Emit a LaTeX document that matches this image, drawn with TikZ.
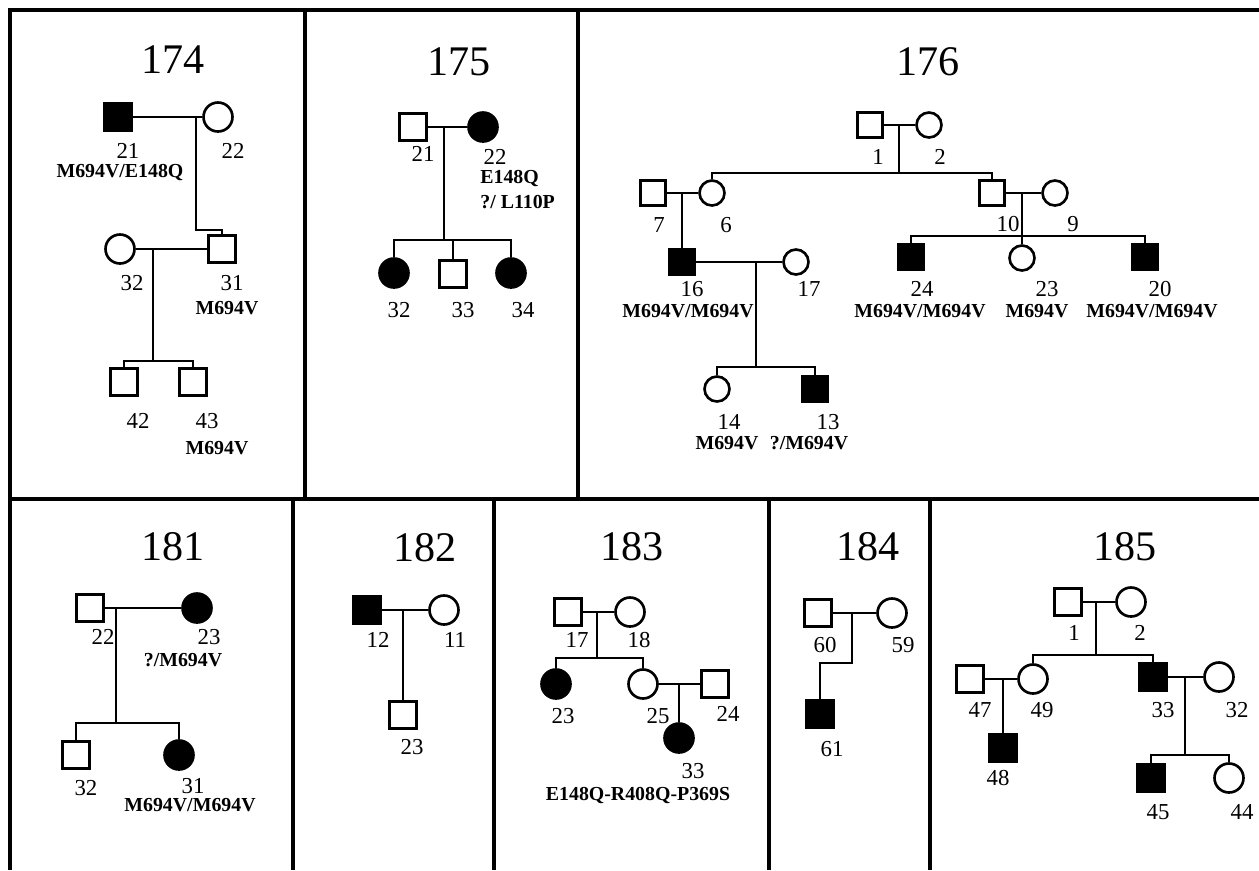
\documentclass[tikz,border=0pt]{standalone}
\usepackage{fontspec}
\setmainfont{Liberation Serif}
\usepackage{tikz}
\usetikzlibrary{positioning, calc}

\begin{document}
\begin{tikzpicture}[
    x=0.02cm, y=-0.02cm,
    male/.style={rectangle, draw, line width=1.5pt, minimum size=0.54cm, inner sep=0pt},
    female/.style={circle, draw, line width=1.5pt, minimum size=0.58cm, inner sep=0pt},
    small/.style={minimum size=0.5cm},
    aff/.style={fill=black},
    tie/.style={line width=1.6pt},
    panel/.style={line width=1.8pt},
    fam/.style={font=\fontsize{24}{26}\selectfont, inner sep=0pt},
    idn/.style={font=\fontsize{13}{14}\selectfont, inner sep=0pt},
    gen/.style={font=\bfseries\fontsize{11.3}{12}\selectfont, inner sep=0pt},
]
    \useasboundingbox (0,0) rectangle (1259,870);

    % ── Panel frame ──
    \draw[panel] (10,870) -- (10,10) -- (1259,10);
    \draw[panel] (10,499) -- (1259,499);
    \draw[panel] (305,10) -- (305,499);
    \draw[panel] (578,10) -- (578,499);
    \draw[panel] (293,499) -- (293,870);
    \draw[panel] (494,499) -- (494,870);
    \draw[panel] (769,499) -- (769,870);
    \draw[panel] (930,499) -- (930,870);

    % ── 174 ──
    \node[fam] (t174) at (173,60) {174};
    \node[male, aff] (a21) at (118,117) {};
    \node[female] (a22) at (218,117) {};
    \node[female] (a32) at (120,249) {};
    \node[male] (a31) at (222,249) {};
    \node[male] (a42) at (124,382) {};
    \node[male] (a43) at (193,382) {};
    \coordinate (a1) at (196,117);
    \coordinate (a1k) at (196,230);
    \coordinate (a2) at (153,249);
    \coordinate (a2s) at (153,361);

    \draw[tie] (a21) -- (a22);
    \draw[tie] (a1) -- (a1k) -| (a31.north);
    \draw[tie] (a32) -- (a31);
    \draw[tie] (a2) -- (a2s);
    \draw[tie] (a42.north) |- (a2s) -| (a43.north);

    \node[idn] (a21l) at (128,151) {21};
    \node[idn] (a22l) at (233,151) {22};
    \node[gen] (a21g) at (120,173) {M694V/E148Q};
    \node[idn] (a32l) at (132,283) {32};
    \node[idn] (a31l) at (232,283) {31};
    \node[gen] (a31g) at (227,308) {M694V};
    \node[idn] (a42l) at (138,421) {42};
    \node[idn] (a43l) at (207,421) {43};
    \node[gen] (a43g) at (217,448) {M694V};

    % ── 175 ──
    \node[fam] (t175) at (459,62) {175};
    \node[male] (b21) at (413,127) {};
    \node[female, aff] (b22) at (483,127) {};
    \node[female, aff] (b32) at (394,273) {};
    \node[male] (b33) at (453,274) {};
    \node[female, aff] (b34) at (511,273) {};
    \coordinate (b1) at (444,127);
    \coordinate (b1s) at (444,240);

    \draw[tie] (b21) -- (b22);
    \draw[tie] (b1) -- (b1s);
    \draw[tie] (b32.north) |- (b1s) -| (b34.north);
    \draw[tie] (b33.north) -- (b33.north |- b1s);

    \node[idn] (b21l) at (423,154) {21};
    \node[idn] (b22l) at (495,157) {22};
    \node[gen, anchor=west] (b22g) at (480,178) {E148Q};
    \node[gen, anchor=west] (b22h) at (480,202) {?/ L110P};
    \node[idn] (b32l) at (399,310) {32};
    \node[idn] (b33l) at (463,310) {33};
    \node[idn] (b34l) at (523,310) {34};

    % ── 176 ──
    \node[fam] (t176) at (928,62) {176};
    \node[male, small] (c1) at (870,125) {};
    \node[female, small] (c2) at (929,125) {};
    \node[male, small] (c7) at (653,193) {};
    \node[female, small] (c6) at (712,193) {};
    \node[male, small] (c10) at (992,193) {};
    \node[female, small] (c9) at (1055,193) {};
    \node[male, small, aff] (c16) at (682,262) {};
    \node[female, small] (c17) at (796,262) {};
    \node[female, small] (c14) at (717,389) {};
    \node[male, small, aff] (c13) at (815,389) {};
    \node[male, small, aff] (c24) at (911,257) {};
    \node[female, small] (c23) at (1022,258) {};
    \node[male, small, aff] (c20) at (1145,257) {};
    \coordinate (c0) at (899,125);
    \coordinate (c0s) at (899,173);
    \coordinate (c3) at (682,193);
    \coordinate (c4) at (756,262);
    \coordinate (c4s) at (756,367);
    \coordinate (c5) at (1022,193);
    \coordinate (c5s) at (1022,236);

    \draw[tie] (c1) -- (c2);
    \draw[tie] (c0) -- (c0s);
    \draw[tie] (c6.north) |- (c0s) -| (c10.north);
    \draw[tie] (c7) -- (c6);
    \draw[tie] (c3) -- (c16.north);
    \draw[tie] (c10) -- (c9);
    \draw[tie] (c5) -- (c23.north);
    \draw[tie] (c24.north) |- (c5s) -| (c20.north);
    \draw[tie] (c16) -- (c17);
    \draw[tie] (c4) -- (c4s);
    \draw[tie] (c14.north) |- (c4s) -| (c13.north);

    \node[idn] (c1l) at (878,157) {1};
    \node[idn] (c2l) at (940,157) {2};
    \node[idn] (c7l) at (659,225) {7};
    \node[idn] (c6l) at (726,225) {6};
    \node[idn] (c10l) at (1008,224) {10};
    \node[idn] (c9l) at (1073,224) {9};
    \node[idn] (c16l) at (692,289) {16};
    \node[gen] (c16g) at (688,311) {M694V/M694V};
    \node[idn] (c17l) at (809,289) {17};
    \node[idn] (c24l) at (922,289) {24};
    \node[gen] (c24g) at (920,311) {M694V/M694V};
    \node[idn] (c23l) at (1047,289) {23};
    \node[gen] (c23g) at (1037,311) {M694V};
    \node[idn] (c20l) at (1160,289) {20};
    \node[gen] (c20g) at (1152,311) {M694V/M694V};
    \node[idn] (c14l) at (729,422) {14};
    \node[gen] (c14g) at (727,443) {M694V};
    \node[idn] (c13l) at (828,422) {13};
    \node[gen] (c13g) at (809,443) {?/M694V};

    % ── 181 ──
    \node[fam] (t181) at (173,547) {181};
    \node[male] (d22) at (90,608) {};
    \node[female, aff] (d23) at (197,608) {};
    \node[male] (d32) at (76,755) {};
    \node[female, aff] (d31) at (179,755) {};
    \coordinate (d1) at (116,608);
    \coordinate (d1s) at (116,723);

    \draw[tie] (d22) -- (d23);
    \draw[tie] (d1) -- (d1s);
    \draw[tie] (d32.north) |- (d1s) -| (d31.north);

    \node[idn] (d22l) at (103,637) {22};
    \node[idn] (d23l) at (209,637) {23};
    \node[gen] (d23g) at (183,660) {?/M694V};
    \node[idn] (d32l) at (86,788) {32};
    \node[idn] (d31l) at (193,786) {31};
    \node[gen] (d31g) at (190,805) {M694V/M694V};

    % ── 182 ──
    \node[fam] (t182) at (425,548) {182};
    \node[male, aff] (e12) at (367,610) {};
    \node[female] (e11) at (444,610) {};
    \node[male] (e23) at (403,715) {};
    \coordinate (e1) at (403,610);

    \draw[tie] (e12) -- (e11);
    \draw[tie] (e1) -- (e23.north);

    \node[idn] (e12l) at (378,640) {12};
    \node[idn] (e11l) at (455,640) {11};
    \node[idn] (e23l) at (412,747) {23};

    % ── 183 ──
    \node[fam] (t183) at (632,547) {183};
    \node[male] (f17) at (568,612) {};
    \node[female] (f18) at (630,612) {};
    \node[female, aff] (f23) at (556,684) {};
    \node[female] (f25) at (643,684) {};
    \node[male] (f24) at (715,684) {};
    \node[female, aff] (f33) at (679,738) {};
    \coordinate (f1) at (597,612);
    \coordinate (f1s) at (597,658);
    \coordinate (f2) at (679,684);

    \draw[tie] (f17) -- (f18);
    \draw[tie] (f1) -- (f1s);
    \draw[tie] (f23.north) |- (f1s) -| (f25.north);
    \draw[tie] (f25) -- (f24);
    \draw[tie] (f2) -- (f33.north);

    \node[idn] (f17l) at (577,640) {17};
    \node[idn] (f18l) at (639,640) {18};
    \node[idn] (f23l) at (563,716) {23};
    \node[idn] (f25l) at (658,716) {25};
    \node[idn] (f24l) at (728,714) {24};
    \node[idn] (f33l) at (693,771) {33};
    \node[gen] (f33g) at (638,795) {E148Q-R408Q-P369S};

    % ── 184 ──
    \node[fam] (t184) at (868,547) {184};
    \node[male] (g60) at (818,613) {};
    \node[female] (g59) at (892,613) {};
    \node[male, aff] (g61) at (820,714) {};
    \coordinate (g1) at (852,613);
    \coordinate (g1k) at (852,663);

    \draw[tie] (g60) -- (g59);
    \draw[tie] (g1) -- (g1k) -| (g61.north);

    \node[idn] (g60l) at (825,645) {60};
    \node[idn] (g59l) at (903,645) {59};
    \node[idn] (g61l) at (832,749) {61};

    % ── 185 ──
    \node[fam] (t185) at (1125,547) {185};
    \node[male] (h1) at (1068,602) {};
    \node[female] (h2) at (1131,602) {};
    \node[male] (h47) at (970,679) {};
    \node[female] (h49) at (1033,679) {};
    \node[male, aff] (h33) at (1153,677) {};
    \node[female] (h32) at (1219,677) {};
    \node[male, aff] (h48) at (1003,748) {};
    \node[male, aff] (h45) at (1151,778) {};
    \node[female] (h44) at (1229,778) {};
    \coordinate (h0) at (1096,602);
    \coordinate (h0s) at (1096,655);
    \coordinate (h3) at (1003,679);
    \coordinate (h4) at (1185,677);
    \coordinate (h4s) at (1185,755);

    \draw[tie] (h1) -- (h2);
    \draw[tie] (h0) -- (h0s);
    \draw[tie] (h49.north) |- (h0s) -| (h33.north);
    \draw[tie] (h47) -- (h49);
    \draw[tie] (h3) -- (h48.north);
    \draw[tie] (h33) -- (h32);
    \draw[tie] (h4) -- (h4s);
    \draw[tie] (h45.north) |- (h4s) -| (h44.north);

    \node[idn] (h1l) at (1074,633) {1};
    \node[idn] (h2l) at (1140,633) {2};
    \node[idn] (h47l) at (980,710) {47};
    \node[idn] (h49l) at (1042,710) {49};
    \node[idn] (h33l) at (1163,710) {33};
    \node[idn] (h32l) at (1237,710) {32};
    \node[idn] (h48l) at (998,778) {48};
    \node[idn] (h45l) at (1158,812) {45};
    \node[idn] (h44l) at (1242,812) {44};

\end{tikzpicture}
\end{document}
